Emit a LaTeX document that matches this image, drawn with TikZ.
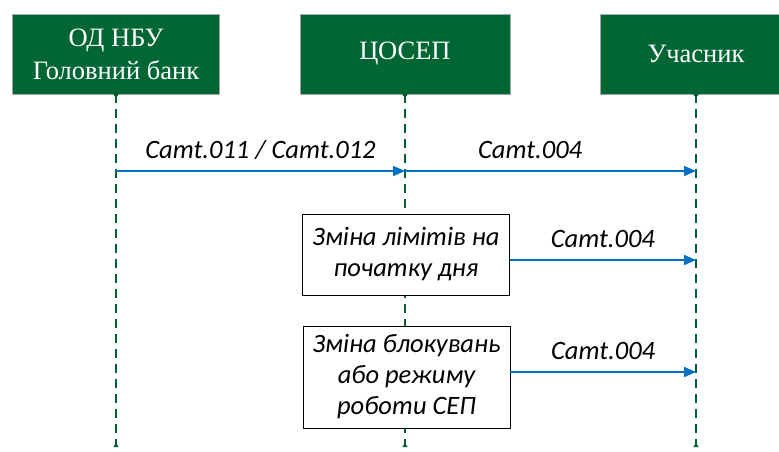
\documentclass[tikz,border=0pt]{standalone}
\usepackage{fontspec}
\setmainfont{Liberation Serif}
\newfontfamily\msgfont{Carlito}
\usetikzlibrary{arrows.meta,positioning}
\definecolor{nbugreen}{RGB}{0,102,51}
\definecolor{lifegreen}{RGB}{0,96,48}
\definecolor{msgblue}{RGB}{0,112,192}

\begin{document}
\begin{tikzpicture}[x=1pt,y=-1pt,
    actor/.style={rectangle, draw=gray!70, fill=nbugreen, text=white, minimum width=207pt, minimum height=80pt, align=center, inner sep=0pt, font=\fontsize{26.5}{33}\selectfont},
    action/.style={rectangle, draw=black, fill=white, minimum width=207pt, align=center, inner sep=2pt, font=\msgfont\itshape\fontsize{26.5}{31}\selectfont},
    lifeline/.style={draw=lifegreen, line width=1.2pt, dash pattern=on 9pt off 6pt},
    message/.style={draw=msgblue, line width=1.6pt, -{Triangle[length=12pt,width=10pt]}},
    msglabel/.style={font=\msgfont\itshape\fontsize{26.5}{30}\selectfont, inner sep=0pt}
    ]
    \useasboundingbox (0,0) rectangle (779,451);

    % participants
    \node[actor] (nbu) at (116,54) {ОД НБУ\\Головний банк};
    \node[actor, minimum width=210pt] (cosep) at (405,54) {ЦОСЕП};
    \node[actor, minimum width=192pt] (member) at (696,54) {Учасник};

    % lifelines
    \foreach \a/\x in {nbu/116, cosep/405, member/696} {
        \coordinate (\a-end) at (\x,447);
        \draw[lifeline, -{Triangle[length=4pt,width=5pt,reversed]}] (\a.south) -- (\a-end);
        \fill[lifegreen] (\a.south) circle (2.5pt);
    }

    % points where the messages meet the lifelines
    \coordinate (nbu-m1) at (116,171);
    \coordinate (cosep-m1) at (405,171);
    \coordinate (member-m1) at (696,171);
    \coordinate (member-m2) at (696,260);
    \coordinate (member-m3) at (696,372);

    % actions of the central system
    \node[action, minimum height=81pt] (limits) at (406,254.5) {Зміна лімітів на\\початку дня};
    \node[action, minimum height=102pt] (blocking) at (406.5,377) {Зміна блокувань\\або режиму\\роботи СЕП};

    % messages
    \draw[message] (nbu-m1) -- node[msglabel, midway, yshift=21pt] {Camt.011 / Camt.012} (cosep-m1);
    \draw[message] (cosep-m1) -- node[msglabel, pos=0.43, yshift=21pt] {Camt.004} (member-m1);
    \draw[message] (limits.east |- member-m2) -- node[msglabel, midway, yshift=21pt] {Camt.004} (member-m2);
    \draw[message] (blocking.east |- member-m3) -- node[msglabel, midway, yshift=21pt] {Camt.004} (member-m3);

\end{tikzpicture}
\end{document}
